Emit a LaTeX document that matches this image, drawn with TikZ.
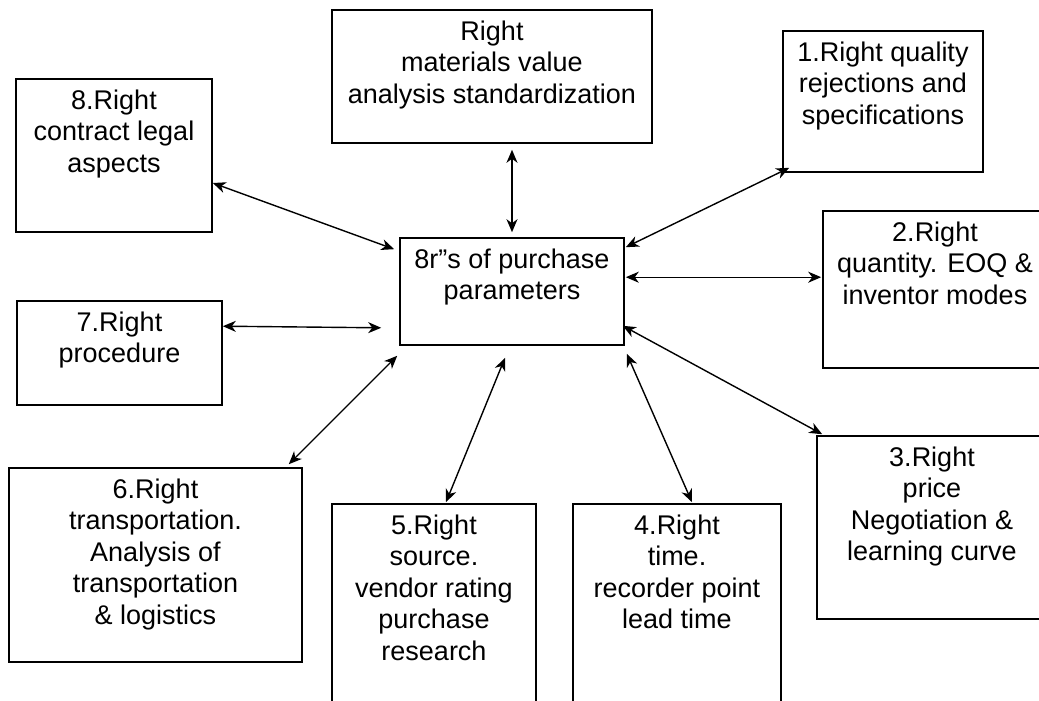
\documentclass[tikz,border=0pt]{standalone}
\usepackage{fontspec}
\setmainfont{Liberation Sans}
\usetikzlibrary{arrows.meta,calc}
\begin{document}
\begin{tikzpicture}[x=1pt,y=-1pt,
  boxnode/.style={draw=black, line width=1.6pt, rectangle, inner sep=0pt},
  boxtext/.style={anchor=north, inner sep=0pt, yshift=-11.5pt, align=center,
                  font=\fontsize{27}{31.5}\selectfont},
  tip/.tip={Stealth[length=13pt,width=11pt,inset=4pt]},
  conn/.style={line width=1.4pt, tip-tip}]
% canvas
\clip (0,0) rectangle (1039,701);
\fill[white] (0,0) rectangle (1039,701);

% central box
\node[boxnode, minimum width=224pt, minimum height=107pt,
  label={[boxtext]north:{8r”s of purchase\\parameters}}] (c) at (512,291.5) {};

% surrounding boxes
\node[boxnode, minimum width=320pt, minimum height=133pt,
  label={[boxtext]north:{Right\\materials value\\analysis standardization}}] (mat) at (492,76.5) {};
\node[boxnode, minimum width=200pt, minimum height=141pt,
  label={[boxtext]north:{1.Right quality\\rejections and\\specifications}}] (q1) at (883,101.5) {};
\node[boxnode, minimum width=224pt, minimum height=157pt,
  label={[boxtext]north:{2.Right\\quantity. EOQ \&\\inventor modes}}] (q2) at (935,289.5) {};
\node[boxnode, minimum width=230pt, minimum height=183pt,
  label={[boxtext]north:{3.Right\\price\\Negotiation \&\\learning curve}}] (r3) at (932,527.5) {};
\node[boxnode, minimum width=208pt, minimum height=216pt,
  label={[boxtext]north:{4.Right\\time.\\recorder point\\lead time}}] (r4) at (677,612) {};
\node[boxnode, minimum width=204pt, minimum height=216pt,
  label={[boxtext]north:{5.Right\\source.\\vendor rating\\purchase\\research}}] (r5) at (434,612) {};
\node[boxnode, minimum width=293pt, minimum height=194pt,
  label={[boxtext]north:{6.Right\\transportation.\\Analysis of\\transportation\\\& logistics}}] (r6) at (155.5,565) {};
\node[boxnode, minimum width=205pt, minimum height=104pt,
  label={[boxtext]north:{7.Right\\procedure}}] (r7) at (119.5,353) {};
\node[boxnode, minimum width=196pt, minimum height=153pt,
  label={[boxtext]north:{8.Right\\contract legal\\aspects}}] (r8) at (114,155.5) {};

% two-way connectors
\draw[conn] ($(c.north |- mat.south)+(0,6)$) -- ($(c.north)+(0,-5)$);
\draw[conn] ($(r8.east)+(0,27.5)$) -- ($(c.north west)+(-5,12)$);
\draw[conn] ($(r7.north east)+(0,26)$) -- ($(c.south west)+(-18,-18)$);
\draw[conn] ($(c.south west)+(-2,10)$) -- ($(r6.north east)+(-14,-3)$);
\draw[conn] ($(c.south)+(-7,12)$) -- ($(r5.north)+(12,-1)$);
\draw[conn] ($(c.south east)+(2,8)$) -- ($(r4.north)+(15,-1)$);
\draw[conn] ($(c.south east)+(-2,-20)$) -- ($(r3.north west)+(6,-1)$);
\draw[conn] ($(c.north east)+(1,40)$) -- ($(q2.north west)+(-1,67)$);
\draw[conn] ($(c.north east)+(1,10)$) -- ($(q1.south west)+(7,-5)$);
\end{tikzpicture}
\end{document}
